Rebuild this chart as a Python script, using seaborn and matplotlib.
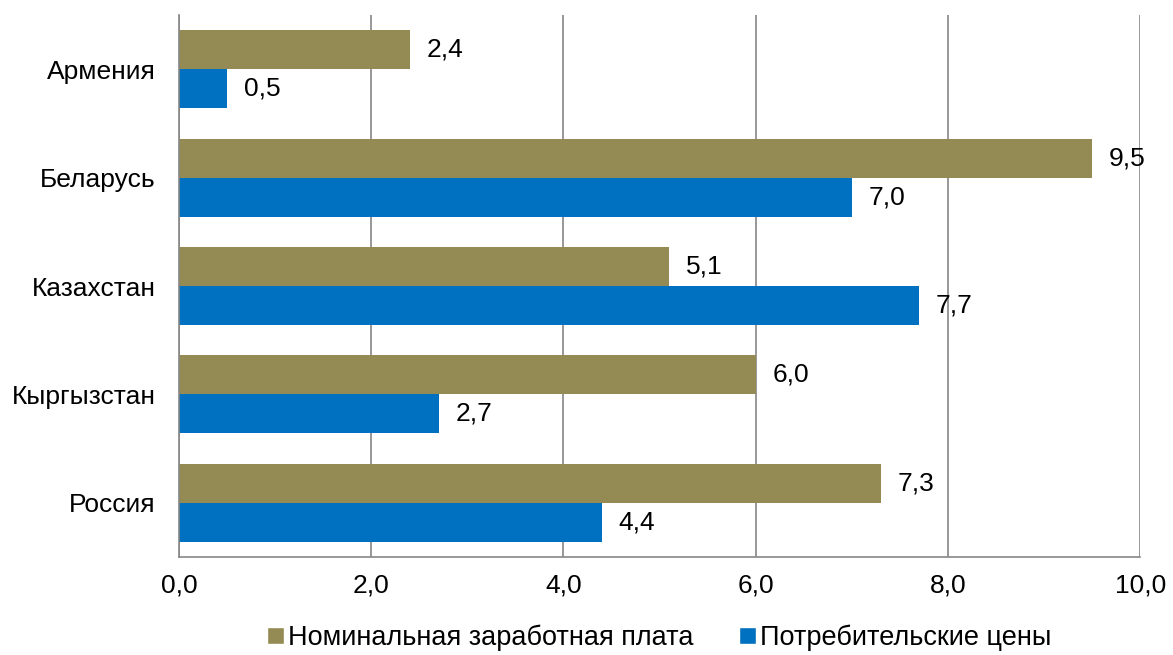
import pandas as pd
import matplotlib.pyplot as plt
import seaborn as sns
from matplotlib.ticker import FixedLocator, FuncFormatter
from matplotlib.patches import Patch

# Data
countries = ["Армения", "Беларусь", "Казахстан", "Кыргызстан", "Россия"]
wages = [2.4, 9.5, 5.1, 6.0, 7.3]
prices = [0.5, 7.0, 7.7, 2.7, 4.4]
series_names = ["Номинальная заработная плата", "Потребительские цены"]
colors = ["#948A54", "#0070C0"]


def main():
    df = pd.DataFrame({
        "Страна": countries * 2,
        "Значение": wages + prices,
        "Ряд": [series_names[0]] * len(countries) + [series_names[1]] * len(countries),
    })

    sns.set_style("white")
    plt.rcParams["font.family"] = ["Liberation Sans", "DejaVu Sans"]
    plt.rcParams["text.color"] = "black"
    plt.rcParams["xtick.labelcolor"] = "black"
    plt.rcParams["ytick.labelcolor"] = "black"

    fig = plt.figure(figsize=(11.73, 6.55), dpi=100)
    ax = fig.add_axes([0.1526, 0.1496, 0.8194, 0.8275])

    sns.barplot(data=df, y="Страна", x="Значение", hue="Ряд", order=countries,
                hue_order=series_names, palette=colors, width=0.72,
                saturation=1, orient="h", ax=ax, legend=False, linewidth=0)

    # Value labels with comma decimal separator
    for cont in ax.containers:
        ax.bar_label(cont, labels=[f"{v:.1f}".replace(".", ",") for v in cont.datavalues],
                     padding=12, fontsize=19, color="black")

    ax.set_xlim(0, 10)
    ax.set_ylim(len(countries) - 0.5, -0.5)
    ax.set_xticks([0, 2, 4, 6, 8, 10])
    ax.xaxis.set_major_formatter(FuncFormatter(lambda v, p: f"{v:.1f}".replace(".", ",")))
    ax.tick_params(axis="x", labelsize=19, length=7, width=1.2, color="#868686", pad=5)
    ax.tick_params(axis="y", which="major", labelsize=19, length=0, pad=17)
    ax.yaxis.set_minor_locator(FixedLocator([i - 0.5 for i in range(len(countries) + 1)]))
    ax.tick_params(axis="y", which="minor", length=7, width=1.2, color="#868686")

    ax.grid(axis="x", color="#868686", linewidth=1.2)
    ax.set_axisbelow(True)
    for side in ["top", "right"]:
        ax.spines[side].set_visible(False)
    for side in ["left", "bottom"]:
        ax.spines[side].set_color("#868686")
        ax.spines[side].set_linewidth(1.2)

    ax.set_xlabel("")
    ax.set_ylabel("")

    handles = [Patch(facecolor=c, label=n) for c, n in zip(colors, series_names)]
    fig.legend(handles=handles, loc="center", bbox_to_anchor=(0.562, 0.026), ncol=2,
               frameon=False, fontsize=19.5, handlelength=0.6, handleheight=0.6,
               handletextpad=0.15, columnspacing=1.7)

    plt.savefig("out.png", dpi=100)


if __name__ == "__main__":
    main()
